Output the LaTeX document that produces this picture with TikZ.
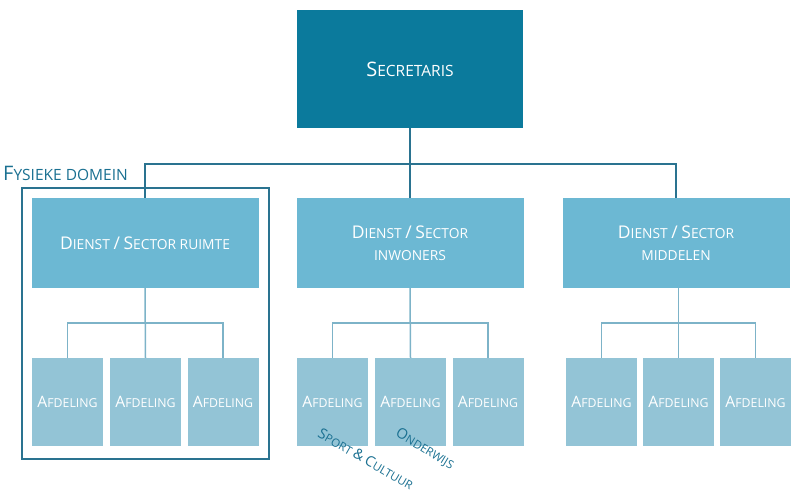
\documentclass[tikz,border=0pt]{standalone}
\usepackage{fontspec}
\setmainfont{Open Sans}
\definecolor{secc}{HTML}{0B7A9C}
\definecolor{dienstc}{HTML}{6CB8D3}
\definecolor{afdc}{HTML}{93C4D6}
\definecolor{linec}{HTML}{2A7390}
\definecolor{lightline}{HTML}{7DB3C8}
\definecolor{labc}{HTML}{1A7091}
% cap letter at a larger size, set inside a font of small-cap size
\newcommand\Cap[2]{{\fontsize{#1}{#1}\selectfont #2}}
\newcommand\dC[1]{\Cap{17.5}{#1}}
\begin{document}
\begin{tikzpicture}[x=1pt,y=-1pt,
  boxbase/.style={draw=none,inner sep=0pt,text=white,align=center},
  secbox/.style={boxbase,fill=secc,minimum width=226pt,minimum height=118pt,font=\fontsize{15.5}{20}\selectfont},
  dbox/.style={boxbase,fill=dienstc,minimum width=227pt,minimum height=90pt,font=\fontsize{13.8}{22}\selectfont},
  abox/.style={boxbase,fill=afdc,minimum width=71pt,minimum height=88pt,font=\fontsize{12.3}{15}\selectfont},
  mainline/.style={draw=linec,line width=1.5pt},
  subline/.style={draw=lightline,line width=1.5pt},
  framebox/.style={draw=linec,line width=1.5pt},
  lab/.style={text=labc,inner sep=0pt}]
\useasboundingbox (0,0) rectangle (801,497);
\node[secbox] (sec) at (410,69) {\Cap{20}{S}ECRETARIS};
\node[dbox] (d1) at (145,243) {\dC{D}IENST \dC{/} \dC{S}ECTOR RUIMTE};
\node[dbox] (d2) at (410,243) {\dC{D}IENST \dC{/} \dC{S}ECTOR\\INWONERS};
\node[dbox] (d3) at (676,243) {\dC{D}IENST \dC{/} \dC{S}ECTOR\\MIDDELEN};
\coordinate (bus) at (410,164);
\draw[mainline] (sec.south) -- (d2.north);
\draw[mainline] (d1.north) |- (bus) -| (d3.north);
% afdelingen
\foreach \n/\x in {a1/67.5,a2/145.5,a3/223,b1/332.5,b2/410.5,b3/488,c1/601.5,c2/678.5,c3/755.5}{
  \node[abox] (\n) at (\x,402) {\Cap{15.7}{A}FDELING};
}
\coordinate (ba) at (145,323);
\coordinate (bb) at (410,323);
\coordinate (bc) at (678.5,323);
\draw[subline] (d1.south) -- (a2.north);
\draw[subline] (a1.north) |- (ba) -| (a3.north);
\draw[subline] (d2.south) -- (b2.north);
\draw[subline] (b1.north) |- (bb) -| (b3.north);
\draw[subline] (c2.north) -- (c2.north |- d3.south);
\draw[subline] (c1.north) |- (bc) -| (c3.north);
% frame
\node[framebox,minimum width=247pt,minimum height=271pt,inner sep=0pt] (frame) at (145.5,323.5) {};
\node[lab,anchor=base west,font=\fontsize{15.5}{18}\selectfont] (fys) at (3,181) {\Cap{20}{F}YSIEKE DOMEIN};
\node[lab,rotate=-30,font=\fontsize{11.5}{14}\selectfont] (sport) at (366,459) {\Cap{14.5}{S}PORT \Cap{14.5}{\&} \Cap{14.5}{C}ULTUUR};
\node[lab,rotate=-31,font=\fontsize{11.5}{14}\selectfont] (ond) at (425,449) {\Cap{14.5}{O}NDERWIJS};
\end{tikzpicture}
\end{document}
